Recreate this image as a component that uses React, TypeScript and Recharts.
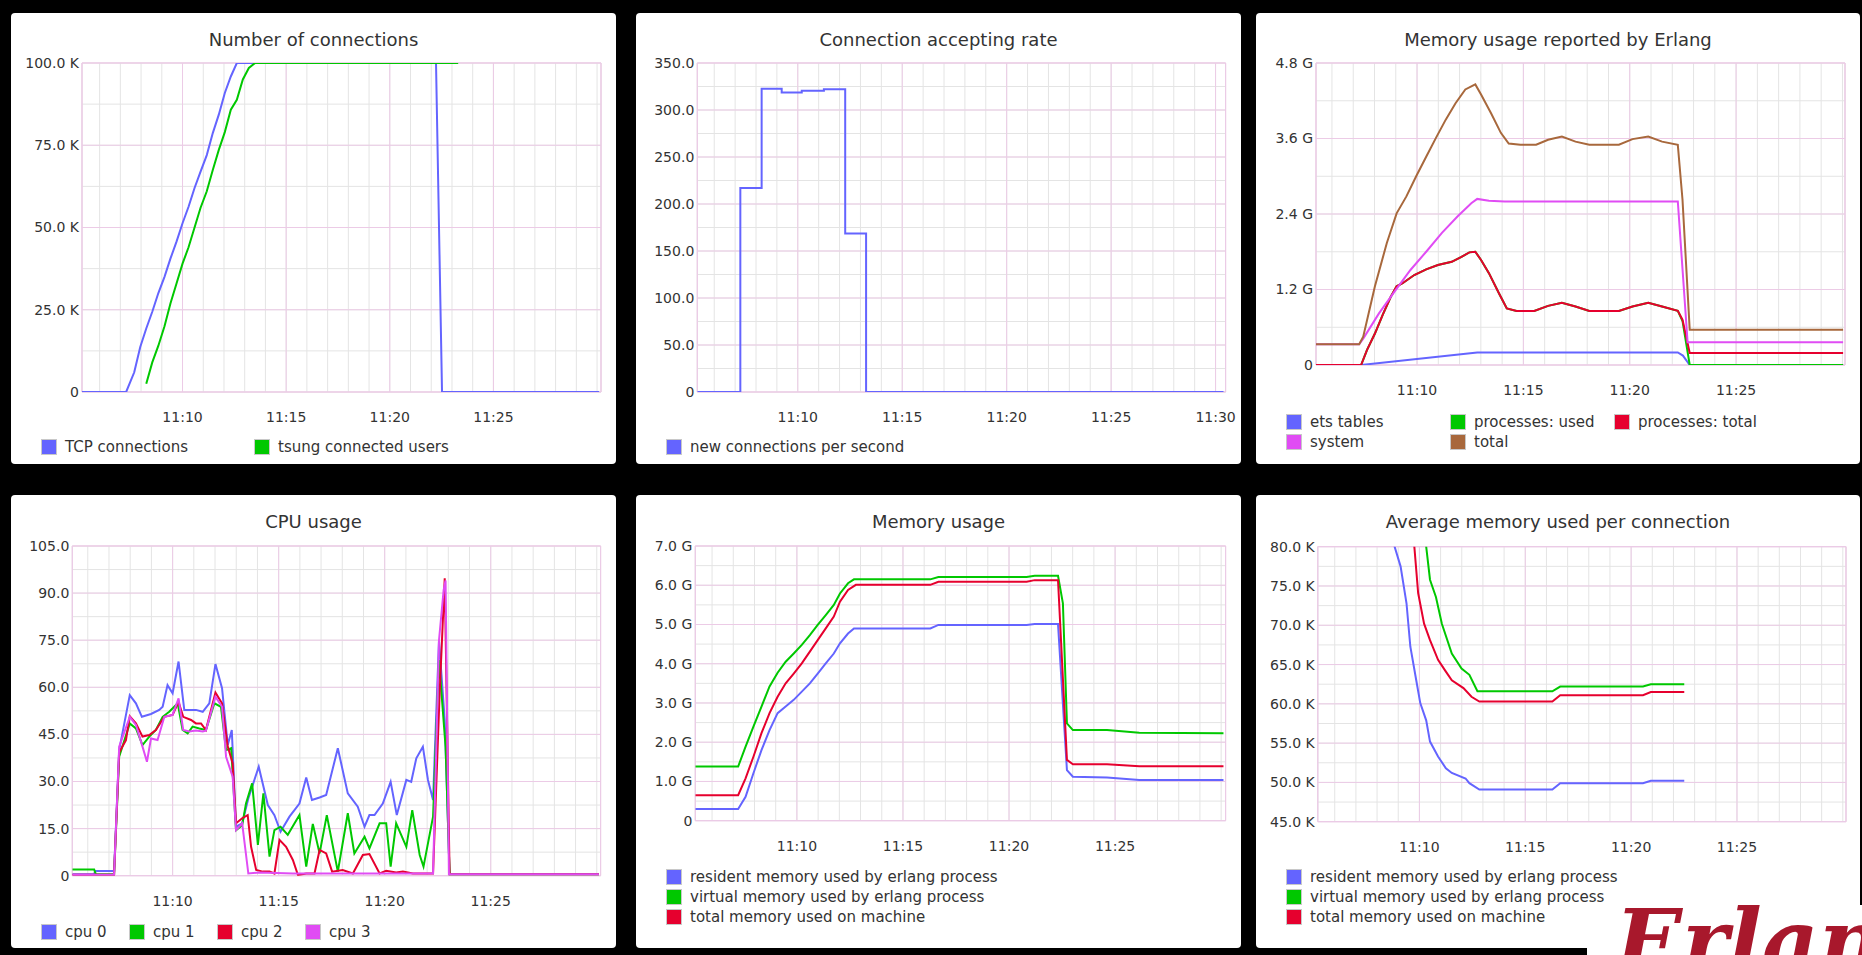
import { LineChart, Line, XAxis, YAxis, CartesianGrid, ReferenceArea } from "recharts";

type Pt = [number, number];

const FONT = "'DejaVu Sans', sans-serif";
const BLUE = "#6464ff";
const GREEN = "#00c800";
const RED = "#e6002e";
const MAGENTA = "#e04cf4";
const BROWN = "#a8683c";
const MINOR = "#e4e4e4";
const MAJOR = "#eccbe6";

// time axis, minutes after 11:00
const minuteTicks = [6, 7, 8, 9, 10, 11, 12, 13, 14, 15, 16, 17, 18, 19, 20, 21, 22, 23, 24, 25, 26, 27, 28, 29, 30];
const timeLabels = [10, 15, 20, 25];
const timeLabelsTo30 = [10, 15, 20, 25, 30];

// Number of connections
const connTicks = [0, 25000, 50000, 75000, 100000];
const connMinor = [0, 12500, 25000, 37500, 50000, 62500, 75000, 87500, 100000];
const tcpConnections: Pt[] = [
  [5.15, 0], [7.28, 0], [7.67, 6000], [7.96, 13700], [8.25, 19300], [8.54, 24400], [8.83, 30000],
  [9.13, 35000], [9.42, 40600], [9.71, 45700], [10.0, 51300], [10.29, 56300], [10.58, 62000],
  [10.87, 67000], [11.17, 72000], [11.46, 78700], [11.75, 84300], [12.04, 90900], [12.33, 95900],
  [12.62, 100000], [22.23, 100000], [22.52, 0], [30.1, 0],
];
const tsungUsers: Pt[] = [
  [8.25, 2500], [8.54, 9000], [8.83, 14000], [9.13, 20000], [9.42, 27000], [9.71, 33000],
  [10.0, 39000], [10.29, 44000], [10.58, 50000], [10.87, 56000], [11.17, 61000], [11.46, 67500],
  [11.75, 73600], [12.04, 79000], [12.33, 85800], [12.62, 88800], [12.91, 95000], [13.2, 98500],
  [13.5, 100000], [23.3, 100000],
];

// Connection accepting rate
const rateTicks = [0, 50, 100, 150, 200, 250, 300, 350];
const rateMinor = [0, 25, 50, 75, 100, 125, 150, 175, 200, 225, 250, 275, 300, 325, 350];
const newConnections: Pt[] = [
  [5.19, 0], [7.25, 217], [8.27, 322.5], [9.23, 318.5], [10.19, 320.5], [11.25, 322],
  [12.27, 168.5], [13.27, 0], [30.38, 0],
];

// Memory usage reported by Erlang (G)
const erlTicks = [0, 1.2, 2.4, 3.6, 4.8];
const erlMinor = [0, 0.6, 1.2, 1.8, 2.4, 3.0, 3.6, 4.2, 4.8];
const etsTables: Pt[] = [
  [5.25, 0], [7.37, 0], [12.83, 0.2], [22.26, 0.2], [22.5, 0.15], [22.82, 0], [30.03, 0],
];
const procUsed: Pt[] = [
  [5.25, 0], [7.37, 0], [7.65, 0.24], [8.02, 0.5], [8.39, 0.8], [8.76, 1.08], [9.04, 1.25],
  [9.32, 1.3], [9.87, 1.43], [10.43, 1.52], [10.98, 1.59], [11.63, 1.64], [12.09, 1.72],
  [12.46, 1.79], [12.74, 1.8], [13.01, 1.67], [13.38, 1.46], [13.85, 1.14], [14.22, 0.9],
  [14.68, 0.86], [15.51, 0.86], [16.16, 0.94], [16.81, 0.99], [17.45, 0.93], [18.1, 0.86],
  [19.49, 0.86], [20.13, 0.93], [20.87, 0.99], [21.52, 0.93], [22.26, 0.86], [22.48, 0.7],
  [22.82, 0], [30.03, 0],
];
const procTotal: Pt[] = [
  [5.25, 0], [7.37, 0], [7.65, 0.24], [8.02, 0.5], [8.39, 0.8], [8.76, 1.08], [9.04, 1.25],
  [9.32, 1.3], [9.87, 1.43], [10.43, 1.52], [10.98, 1.59], [11.63, 1.64], [12.09, 1.72],
  [12.46, 1.79], [12.74, 1.8], [13.01, 1.67], [13.38, 1.46], [13.85, 1.14], [14.22, 0.9],
  [14.68, 0.86], [15.51, 0.86], [16.16, 0.94], [16.81, 0.99], [17.45, 0.93], [18.1, 0.86],
  [19.49, 0.86], [20.13, 0.93], [20.87, 0.99], [21.52, 0.93], [22.26, 0.86], [22.48, 0.72],
  [22.82, 0.19], [30.03, 0.19],
];
const systemMem: Pt[] = [
  [5.25, 0.33], [7.28, 0.33], [7.47, 0.42], [8.21, 0.82], [8.95, 1.17], [9.69, 1.51],
  [10.43, 1.8], [11.17, 2.1], [11.9, 2.36], [12.55, 2.57], [12.83, 2.64], [13.38, 2.61],
  [14.12, 2.6], [22.26, 2.6], [22.72, 0.36], [30.03, 0.36],
];
const totalMem: Pt[] = [
  [5.25, 0.33], [7.28, 0.33], [7.47, 0.45], [8.02, 1.25], [8.58, 1.94], [9.04, 2.41], [9.5, 2.68],
  [9.96, 3.0], [10.43, 3.31], [10.89, 3.61], [11.35, 3.9], [11.81, 4.16], [12.27, 4.38],
  [12.74, 4.46], [13.01, 4.3], [13.48, 4.0], [13.94, 3.69], [14.31, 3.52], [14.86, 3.5],
  [15.6, 3.5], [16.16, 3.58], [16.81, 3.63], [17.45, 3.55], [18.1, 3.5], [19.49, 3.5],
  [20.13, 3.59], [20.87, 3.63], [21.52, 3.55], [22.26, 3.5], [22.48, 2.63], [22.82, 0.56],
  [30.03, 0.56],
];

// CPU usage (%)
const cpuTicks = [0, 15, 30, 45, 60, 75, 90, 105];
const cpuMinor = [0, 7.5, 15, 22.5, 30, 37.5, 45, 52.5, 60, 67.5, 75, 82.5, 90, 97.5, 105];
const cpu0: Pt[] = [
  [5.27, 0.5], [6.3, 0.5], [6.35, 1.5], [7.24, 1.5], [7.48, 40], [7.98, 57.5], [8.27, 54.9],
  [8.55, 50.6], [8.98, 51.5], [9.37, 52.8], [9.53, 53.8], [9.76, 60.7], [10.0, 58.1],
  [10.28, 68.2], [10.55, 52.8], [10.87, 52.8], [11.1, 52.8], [11.42, 52.2], [11.73, 54.9],
  [12.02, 67.4], [12.33, 59.7], [12.6, 41.6], [12.79, 46.4], [12.99, 15.6], [13.28, 16.7],
  [13.57, 24.6], [14.06, 34.7], [14.49, 22.5], [14.8, 19.3], [15.09, 14], [15.51, 18.8],
  [15.98, 23], [16.3, 31.3], [16.57, 24.1], [16.93, 24.9], [17.24, 25.7], [17.79, 40.6],
  [18.26, 26.2], [18.73, 22], [19.05, 15.6], [19.28, 19.3], [19.52, 19.3], [19.91, 23],
  [20.28, 29.9], [20.57, 19.3], [21.02, 30.5], [21.25, 29.9], [21.49, 37.4], [21.8, 41.1],
  [22.04, 30.5], [22.28, 24.1], [22.56, 75], [22.83, 49.6], [23.06, 0.5], [30.1, 0.5],
];
const cpu1: Pt[] = [
  [5.27, 2], [6.3, 2], [6.38, 0.5], [7.24, 0.5], [7.48, 37.9], [7.98, 48.5], [8.27, 46.9],
  [8.58, 41.6], [8.9, 44.3], [9.21, 46.4], [9.53, 50.6], [9.84, 52.2], [10.24, 54.9],
  [10.47, 46.4], [10.71, 45.3], [10.94, 47.5], [11.26, 46.9], [11.57, 46.4], [11.97, 54.9],
  [12.28, 53.8], [12.52, 40], [12.76, 40.6], [12.99, 14.5], [13.28, 16.1], [13.46, 23],
  [13.75, 29.4], [14.02, 9.8], [14.28, 26.2], [14.57, 6.1], [14.8, 14.5], [15.09, 15.6],
  [15.43, 13], [15.98, 19.3], [16.3, 2.9], [16.61, 16.5], [16.93, 7.1], [17.27, 19.3],
  [17.79, 1.3], [18.26, 19.9], [18.57, 7.1], [19.05, 12.4], [19.28, 8.7], [19.76, 16.7],
  [20.07, 16.7], [20.28, 2.9], [20.54, 16.7], [21.02, 9.2], [21.3, 20.9], [21.65, 6.6],
  [21.83, 2.9], [22.28, 18.8], [22.56, 68.7], [22.87, 41.1], [23.06, 0.5], [30.1, 0.5],
];
const cpu2: Pt[] = [
  [5.27, 0.3], [7.24, 0.3], [7.48, 39.2], [7.8, 43.2], [7.98, 50.8], [8.27, 48.5], [8.58, 44.3],
  [8.9, 44.8], [9.21, 46.4], [9.61, 50.6], [10.0, 51.2], [10.28, 55.4], [10.5, 50.6],
  [10.87, 49.6], [11.1, 48.5], [11.34, 48.5], [11.57, 46.4], [12.02, 58.3], [12.33, 54.9],
  [12.6, 41.1], [12.83, 35.8], [12.99, 16.7], [13.28, 18.3], [13.54, 19.3], [13.7, 9.2],
  [13.94, 1.8], [14.25, 1.3], [14.57, 1.3], [14.8, 0.7], [15.04, 11.4], [15.35, 9.2],
  [15.67, 5], [15.91, 0.2], [16.3, 0.7], [16.69, 0.7], [16.93, 8.2], [17.24, 7.1],
  [17.52, 1.3], [18.02, 1.8], [18.5, 0.7], [18.97, 6.6], [19.28, 6.9], [19.76, 0.7],
  [20.07, 1.6], [20.54, 1], [20.86, 1.3], [21.33, 0.7], [22.28, 0.7], [22.59, 58],
  [22.83, 94.7], [23.06, 0.5], [30.1, 0.5],
];
const cpu3: Pt[] = [
  [5.27, 0.3], [7.24, 0.3], [7.48, 41.1], [7.98, 50.6], [8.27, 48], [8.58, 41.1], [8.79, 36.3],
  [8.98, 43.7], [9.29, 43.2], [9.61, 50.6], [10.0, 51.2], [10.28, 56.5], [10.5, 46.4],
  [10.79, 45.9], [11.1, 46.2], [11.42, 45.9], [11.57, 46.2], [12.02, 57], [12.33, 53.8],
  [12.52, 37.9], [12.83, 31.5], [12.99, 14.5], [13.28, 16.7], [13.57, 0.7], [14.09, 1],
  [15.67, 0.7], [17.24, 0.7], [22.28, 0.7], [22.56, 75], [22.78, 91], [22.87, 94],
  [23.03, 0.5], [30.1, 0.5],
];

// Memory usage (G)
const memTicks = [0, 1, 2, 3, 4, 5, 6, 7];
const memMinor = [0, 0.5, 1, 1.5, 2, 2.5, 3, 3.5, 4, 4.5, 5, 5.5, 6, 6.5, 7];
const residentMem: Pt[] = [
  [5.21, 0.3], [7.23, 0.3], [7.58, 0.61], [7.95, 1.21], [8.33, 1.8], [8.71, 2.31], [9.09, 2.74],
  [9.47, 2.91], [9.85, 3.08], [10.23, 3.29], [10.61, 3.5], [10.98, 3.75], [11.36, 4.01],
  [11.74, 4.26], [12.03, 4.52], [12.41, 4.77], [12.69, 4.9], [16.29, 4.9], [16.67, 4.99],
  [20.83, 4.99], [21.21, 5.01], [22.31, 5.01], [22.73, 1.29], [23.01, 1.12], [24.62, 1.1],
  [26.14, 1.04], [30.11, 1.04],
];
const virtualMem: Pt[] = [
  [5.21, 1.38], [7.23, 1.38], [7.58, 1.89], [7.95, 2.4], [8.33, 2.91], [8.71, 3.42], [9.09, 3.77],
  [9.47, 4.05], [9.85, 4.26], [10.23, 4.48], [10.61, 4.73], [10.98, 4.99], [11.36, 5.24],
  [11.74, 5.5], [12.03, 5.79], [12.41, 6.05], [12.69, 6.15], [16.29, 6.15], [16.67, 6.21],
  [20.83, 6.21], [21.21, 6.24], [22.31, 6.24], [22.54, 5.54], [22.73, 2.48], [23.01, 2.31],
  [24.62, 2.31], [26.14, 2.24], [30.11, 2.23],
];
const machineMem: Pt[] = [
  [5.21, 0.65], [7.23, 0.65], [7.58, 1.08], [7.95, 1.63], [8.33, 2.23], [8.71, 2.74], [9.09, 3.16],
  [9.47, 3.5], [9.85, 3.75], [10.23, 4.01], [10.61, 4.31], [10.98, 4.6], [11.36, 4.9],
  [11.74, 5.2], [12.03, 5.58], [12.41, 5.88], [12.78, 6.01], [16.29, 6.01], [16.67, 6.09],
  [20.83, 6.09], [21.21, 6.13], [22.31, 6.13], [22.73, 1.55], [23.01, 1.44], [24.62, 1.44],
  [26.14, 1.39], [30.11, 1.39],
];

// Average memory used per connection (K)
const avgTicks = [45, 50, 55, 60, 65, 70, 75, 80];
const avgMinor = [45, 47.5, 50, 52.5, 55, 57.5, 60, 62.5, 65, 67.5, 70, 72.5, 75, 77.5, 80];
const avgResident: Pt[] = [
  [8.7, 82.5], [8.83, 80], [9.11, 77.5], [9.39, 72.8], [9.57, 67.3], [9.85, 63], [10.04, 60.1],
  [10.32, 57.9], [10.5, 55.2], [10.88, 53.3], [11.25, 51.8], [11.53, 51.2], [12.18, 50.5],
  [12.36, 49.9], [12.83, 49.1], [16.28, 49.1], [16.65, 49.9], [20.56, 49.9], [20.93, 50.2],
  [22.51, 50.2],
];
const avgVirtual: Pt[] = [
  [10.2, 83], [10.32, 80], [10.5, 75.8], [10.78, 73.6], [11.06, 70.2], [11.53, 66.4],
  [11.99, 64.5], [12.36, 63.7], [12.74, 61.6], [16.28, 61.6], [16.65, 62.2], [20.56, 62.2],
  [20.93, 62.5], [22.51, 62.5],
];
const avgMachine: Pt[] = [
  [9.62, 85], [9.76, 80], [9.94, 74.1], [10.22, 70.2], [10.5, 68.1], [10.88, 65.6], [11.25, 64.1],
  [11.53, 63], [12.08, 62], [12.46, 60.9], [12.83, 60.3], [16.28, 60.3], [16.65, 61.1],
  [20.56, 61.1], [20.93, 61.5], [22.51, 61.5],
];

type Series = { name: string; color: string; data: Pt[]; step?: boolean };

const toPoints = (pts: Pt[]) => pts.map(([t, v]) => ({ t, v }));
const fmtTime = (m: number) => `11:${m}`;
const fmtK = (v: number) => (v === 0 ? "0" : `${(v / 1000).toFixed(1)} K`);
const fmtNum = (v: number) => (v === 0 ? "0" : v.toFixed(1));
const fmtG = (v: number) => (v === 0 ? "0" : `${v.toFixed(1)} G`);
const fmtKilo = (v: number) => `${v.toFixed(1)} K`;

const YW = 55;
const XH = 30;
const tickStyle = { fill: "#333", fontSize: 14, fontFamily: FONT };

type PanelProps = {
  left: number;
  top: number;
  width: number;
  height: number;
  title: string;
  plot: { left: number; top: number; right: number; bottom: number };
  xDomain: [number, number];
  xTicks: number[];
  yDomain: [number, number];
  yTicks: number[];
  yMinor: number[];
  yFormat: (v: number) => string;
  series: Series[];
  legendTop: number;
  legendCols: string;
};

const Panel = (p: PanelProps) => (
  <div
    style={{
      position: "absolute",
      left: p.left,
      top: p.top,
      width: p.width,
      height: p.height,
      background: "#fff",
      borderRadius: 4,
      overflow: "hidden",
    }}
  >
    <div
      style={{
        position: "absolute",
        top: 18,
        left: 0,
        width: "100%",
        textAlign: "center",
        fontSize: 18,
        lineHeight: "18px",
        color: "#333",
      }}
    >
      {p.title}
    </div>
    <LineChart
      width={p.width}
      height={p.height}
      margin={{ top: p.plot.top, right: p.plot.right, bottom: p.plot.bottom - XH, left: p.plot.left - YW }}
    >
      <XAxis xAxisId="minor" type="number" dataKey="t" domain={p.xDomain} ticks={minuteTicks} interval={0} allowDataOverflow hide />
      <YAxis yAxisId="minor" type="number" domain={p.yDomain} ticks={p.yMinor} interval={0} allowDataOverflow hide />
      <XAxis
        type="number"
        dataKey="t"
        domain={p.xDomain}
        ticks={p.xTicks}
        interval={0}
        allowDataOverflow
        height={XH}
        axisLine={false}
        tickLine={false}
        tickSize={0}
        tickMargin={20}
        tick={tickStyle}
        tickFormatter={fmtTime}
      />
      <YAxis
        type="number"
        domain={p.yDomain}
        ticks={p.yTicks}
        interval={0}
        allowDataOverflow
        width={YW}
        axisLine={false}
        tickLine={false}
        tickSize={0}
        tickMargin={3}
        tick={tickStyle}
        tickFormatter={p.yFormat}
      />
      <CartesianGrid xAxisId="minor" yAxisId="minor" stroke={MINOR} />
      <CartesianGrid stroke={MAJOR} />
      <ReferenceArea x1={p.xDomain[0]} x2={p.xDomain[1]} y1={p.yDomain[0]} y2={p.yDomain[1]} fill="none" stroke={MAJOR} />
      {p.series.map((s) => (
        <Line
          key={s.name}
          data={toPoints(s.data)}
          dataKey="v"
          type={s.step ? "stepAfter" : "linear"}
          stroke={s.color}
          strokeWidth={2}
          dot={false}
          activeDot={false}
          isAnimationActive={false}
        />
      ))}
    </LineChart>
    <div
      style={{
        position: "absolute",
        left: 30,
        top: p.legendTop - 10,
        display: "grid",
        gridTemplateColumns: p.legendCols,
        fontSize: 15,
        lineHeight: "20px",
        color: "#333",
      }}
    >
      {p.series.map((s) => (
        <div key={s.name} style={{ display: "flex", alignItems: "center", height: 20, whiteSpace: "nowrap" }}>
          <span
            style={{
              display: "inline-block",
              width: 16,
              height: 16,
              boxSizing: "border-box",
              border: "1px solid #c8c8c8",
              background: s.color,
              marginRight: 8,
            }}
          />
          <span>{s.name}</span>
        </div>
      ))}
    </div>
  </div>
);

export default function App() {
  return (
    <div
      style={{
        position: "fixed",
        left: 0,
        top: 0,
        width: 1862,
        height: 955,
        background: "#000",
        overflow: "hidden",
        fontFamily: FONT,
      }}
    >
      <Panel
        left={11} top={13} width={605} height={451}
        title="Number of connections"
        plot={{ left: 71, top: 50, right: 15, bottom: 72 }}
        xDomain={[5.15, 30.19]} xTicks={timeLabels}
        yDomain={[0, 100000]} yTicks={connTicks} yMinor={connMinor} yFormat={fmtK}
        series={[
          { name: "TCP connections", color: BLUE, data: tcpConnections },
          { name: "tsung connected users", color: GREEN, data: tsungUsers },
        ]}
        legendTop={434} legendCols="213px auto"
      />
      <Panel
        left={636} top={13} width={605} height={451}
        title="Connection accepting rate"
        plot={{ left: 61.3, top: 50, right: 15.4, bottom: 72 }}
        xDomain={[5.19, 30.48]} xTicks={timeLabelsTo30}
        yDomain={[0, 350]} yTicks={rateTicks} yMinor={rateMinor} yFormat={fmtNum}
        series={[{ name: "new connections per second", color: BLUE, data: newConnections, step: true }]}
        legendTop={434} legendCols="auto"
      />
      <Panel
        left={1256} top={13} width={604} height={451}
        title="Memory usage reported by Erlang"
        plot={{ left: 60, top: 50, right: 15, bottom: 99 }}
        xDomain={[5.25, 30.12]} xTicks={timeLabels}
        yDomain={[0, 4.8]} yTicks={erlTicks} yMinor={erlMinor} yFormat={fmtG}
        series={[
          { name: "ets tables", color: BLUE, data: etsTables },
          { name: "processes: used", color: GREEN, data: procUsed },
          { name: "processes: total", color: RED, data: procTotal },
          { name: "system", color: MAGENTA, data: systemMem },
          { name: "total", color: BROWN, data: totalMem },
        ]}
        legendTop={409} legendCols="164px 164px auto"
      />
      <Panel
        left={11} top={495} width={605} height={453}
        title="CPU usage"
        plot={{ left: 61.3, top: 51, right: 15.4, bottom: 72.3 }}
        xDomain={[5.27, 30.18]} xTicks={timeLabels}
        yDomain={[0, 105]} yTicks={cpuTicks} yMinor={cpuMinor} yFormat={fmtNum}
        series={[
          { name: "cpu 0", color: BLUE, data: cpu0 },
          { name: "cpu 1", color: GREEN, data: cpu1 },
          { name: "cpu 2", color: RED, data: cpu2 },
          { name: "cpu 3", color: MAGENTA, data: cpu3 },
        ]}
        legendTop={437} legendCols="88px 88px 88px auto"
      />
      <Panel
        left={636} top={495} width={605} height={453}
        title="Memory usage"
        plot={{ left: 59.3, top: 51, right: 15.4, bottom: 127.3 }}
        xDomain={[5.21, 30.21]} xTicks={timeLabels}
        yDomain={[0, 7]} yTicks={memTicks} yMinor={memMinor} yFormat={fmtG}
        series={[
          { name: "resident memory used by erlang process", color: BLUE, data: residentMem },
          { name: "virtual memory used by erlang process", color: GREEN, data: virtualMem },
          { name: "total memory used on machine", color: RED, data: machineMem },
        ]}
        legendTop={382} legendCols="auto"
      />
      <Panel
        left={1256} top={495} width={604} height={453}
        title="Average memory used per connection"
        plot={{ left: 61.8, top: 51.7, right: 14, bottom: 126.3 }}
        xDomain={[5.2, 30.15]} xTicks={timeLabels}
        yDomain={[45, 80]} yTicks={avgTicks} yMinor={avgMinor} yFormat={fmtKilo}
        series={[
          { name: "resident memory used by erlang process", color: BLUE, data: avgResident },
          { name: "virtual memory used by erlang process", color: GREEN, data: avgVirtual },
          { name: "total memory used on machine", color: RED, data: avgMachine },
        ]}
        legendTop={382} legendCols="auto"
      />
      <div
        style={{
          position: "absolute",
          left: 1587,
          top: 905,
          width: 275,
          height: 50,
          background: "#fff",
          overflow: "hidden",
        }}
      >
        <div
          style={{
            position: "absolute",
            left: 28,
            top: -8,
            fontFamily: "'DejaVu Serif', serif",
            fontStyle: "italic",
            fontWeight: "bold",
            fontSize: 88,
            lineHeight: "88px",
            color: "#a8182c",
            whiteSpace: "nowrap",
          }}
        >
          Erlang
        </div>
      </div>
    </div>
  );
}
